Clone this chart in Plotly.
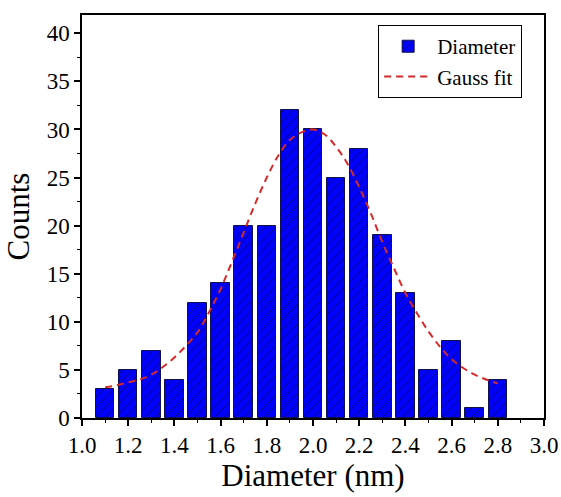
import plotly.graph_objects as go

# Histogram of particle diameters (bin centres in nm) and counts per bin
diameter_bins = [1.1, 1.2, 1.3, 1.4, 1.5, 1.6, 1.7, 1.8, 1.9, 2.0,
                 2.1, 2.2, 2.3, 2.4, 2.5, 2.6, 2.7, 2.8]
counts = [3, 5, 7, 4, 12, 14, 20, 20, 32, 30,
          25, 28, 19, 13, 5, 8, 1, 4]

# Gaussian fit curve sampled along the diameter axis
fit_x = [1.10, 1.15, 1.20, 1.25, 1.30, 1.35, 1.40, 1.45, 1.50, 1.55,
         1.60, 1.65, 1.70, 1.75, 1.80, 1.85, 1.90, 1.95, 2.00, 2.05,
         2.10, 2.15, 2.20, 2.25, 2.30, 2.35, 2.40, 2.45, 2.50, 2.55,
         2.60, 2.65, 2.70, 2.75, 2.80]
fit_y = [3.2, 3.4, 3.7, 4.0, 4.5, 5.3, 6.3, 7.5, 8.9, 11.0,
         13.4, 16.3, 19.3, 22.3, 25.0, 27.3, 28.9, 29.7, 30.0, 29.5,
         28.2, 26.4, 24.0, 21.3, 18.3, 15.6, 13.0, 10.9, 9.0, 7.4,
         6.1, 5.2, 4.5, 4.0, 3.6]

x_tickvals = [1.0, 1.2, 1.4, 1.6, 1.8, 2.0, 2.2, 2.4, 2.6, 2.8, 3.0]
x_ticktext = ["1.0", "1.2", "1.4", "1.6", "1.8", "2.0", "2.2", "2.4", "2.6", "2.8", "3.0"]
y_tickvals = [0, 5, 10, 15, 20, 25, 30, 35, 40]

FONT = "Times New Roman, Liberation Serif, Tinos, serif"

fig = go.Figure()

fig.add_trace(go.Bar(
    x=diameter_bins,
    y=counts,
    width=0.08,
    name="Diameter",
    marker=dict(
        color="#0000ff",
        line=dict(color="#10104a", width=1),
        pattern=dict(shape="/", fgcolor="#0a0a50", bgcolor="#0000ff",
                     size=7, solidity=0.12, fillmode="replace"),
    ),
))

fig.add_trace(go.Scatter(
    x=fit_x,
    y=fit_y,
    mode="lines",
    name="Gauss fit",
    line=dict(color="#d42a2a", width=2, dash="7px,5px", shape="spline"),
))

fig.update_layout(
    width=561,
    height=497,
    margin=dict(l=82, r=17, t=15, b=79, autoexpand=False),
    paper_bgcolor="white",
    plot_bgcolor="white",
    font=dict(family=FONT, color="black"),
    showlegend=True,
    legend=dict(
        x=0.641, y=0.975, xanchor="left", yanchor="top",
        bordercolor="black", borderwidth=1, bgcolor="white",
        font=dict(family=FONT, size=21, color="black"),
        itemwidth=48,
        tracegroupgap=0,
    ),
    bargap=0,
)

fig.update_xaxes(
    range=[1.0, 3.0],
    tickvals=x_tickvals,
    ticktext=x_ticktext,
    ticks="outside",
    ticklen=6,
    tickwidth=1.5,
    tickcolor="black",
    minor=dict(dtick=0.1, tick0=1.0, ticks="outside", ticklen=3,
               tickwidth=1.2, tickcolor="black", showgrid=False),
    showline=True,
    linecolor="black",
    linewidth=1.5,
    mirror=True,
    showgrid=False,
    zeroline=False,
    automargin=False,
    tickfont=dict(family=FONT, size=23, color="black"),
    title=dict(text="Diameter (nm)", font=dict(family=FONT, size=31, color="black"),
               standoff=0),
)

fig.update_yaxes(
    range=[0, 41.9],
    tickvals=y_tickvals,
    ticks="outside",
    ticklen=6,
    tickwidth=1.5,
    tickcolor="black",
    minor=dict(dtick=2.5, tick0=0, ticks="outside", ticklen=3,
               tickwidth=1.2, tickcolor="black", showgrid=False),
    showline=True,
    linecolor="black",
    linewidth=1.5,
    mirror=True,
    showgrid=False,
    zeroline=False,
    automargin=False,
    tickfont=dict(family=FONT, size=23, color="black"),
    title=dict(text="Counts", font=dict(family=FONT, size=31, color="black"),
               standoff=8),
)

fig.write_html("out.html")
